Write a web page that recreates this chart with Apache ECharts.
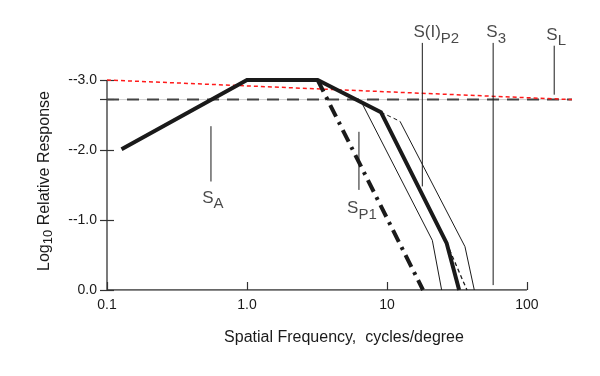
<!DOCTYPE html>
<html><head><meta charset="utf-8">
<script src="https://cdn.jsdelivr.net/npm/echarts@6/dist/echarts.min.js"></script>
<style>html,body{margin:0;padding:0;background:#fff}#c{width:600px;height:376px}</style>
</head><body><div id="c"></div>
<script>
// ---- data ----
const xTickValues = [0.1, 1, 10, 100];
const xTickLabels = ['0.1', '1.0', '10', '100'];
const yTickValues = [0, 1, 2, 3];
const yTickLabels = ['0.0', '--1.0', '--2.0', '--3.0'];
const criterionLevel = 2.72;

const thickFreq = [0.127, 1.0, 3.2, 9.06, 26.7, 32.8];
const thickResp = [2.01, 3.0, 3.0, 2.54, 0.67, 0.0];
const dashDotFreq = [3.2, 18.1];
const dashDotResp = [3.0, 0.0];
const thinLeftFreq = [6.59, 21.1, 24.6];
const thinLeftResp = [2.68, 0.71, 0.0];
const thinRightFreq = [12.4, 36.1, 42.1];
const thinRightResp = [2.41, 0.62, 0.0];
const dashUpperFreq = [9.06, 12.4];
const dashUpperResp = [2.54, 2.41];
const dashLowerFreq = [26.7, 37.3];
const dashLowerResp = [0.67, 0.0];
const redFreq = [0.1, 210];
const redResp = [3.0, 2.72];
const levelFreq = [0.1, 210];

const markerSubs = ['A', 'P1', 'P2', '3', 'L'];
const markerMains = ['S', 'S', 'S(I)', 'S', 'S'];
const markerFreq = [0.553, 6.31, 17.9, 57.4, 156.7];
const markerTop = [2.34, 2.26, 3.53, 3.53, 3.49];
const markerBottom = [1.55, 1.43, 1.48, 0.07, 2.79];

// ---- build ----
const zip = (a, b) => a.map((v, i) => [v, b[i]]);
const INK = '#1a1a1a';
const FONT = '"Liberation Sans", Arial, Helvetica, sans-serif';
const labelBelow = [true, true, false, false, false];
const labelShift = [2, 3, 14, 3, 2];
const labelDist = [8, 10, -4, -4, -4];

function lineSeries(data, width, type, color) {
  return {
    type: 'line', data: data, symbol: 'none', silent: true,
    lineStyle: { width: width, type: type || 'solid', color: color || INK, cap: 'butt', join: 'miter' },
    z: 3
  };
}

const series = [];
// axis lines (span of the tick ranges)
series.push(lineSeries([[xTickValues[0], yTickValues[0]], [xTickValues[xTickValues.length - 1], yTickValues[0]]], 1.3, 'solid', '#333'));
series.push(lineSeries([[xTickValues[0], yTickValues[0]], [xTickValues[0], yTickValues[yTickValues.length - 1]]], 1.3, 'solid', '#333'));
// criterion level: light grey base + dark dashes
series.push(lineSeries(levelFreq.map(f => [f, criterionLevel]), 1, 'solid', '#cfcfcf'));
series.push(lineSeries(levelFreq.map(f => [f, criterionLevel]), 2, [12, 8], '#444'));
// red dotted
series.push(lineSeries(zip(redFreq, redResp), 1.5, [4, 3], '#ff1a1a'));
// curves
series.push(lineSeries(zip(thickFreq, thickResp), 4));
series.push(lineSeries(zip(dashDotFreq, dashDotResp), 4, [13, 6, 3, 6]));
series.push(lineSeries(zip(thinLeftFreq, thinLeftResp), 1));
series.push(lineSeries(zip(thinRightFreq, thinRightResp), 1));
series.push(lineSeries(zip(dashUpperFreq, dashUpperResp), 1, [4, 3]));
series.push(lineSeries(zip(dashLowerFreq, dashLowerResp), 1.3, [4, 3]));
// markers
markerFreq.forEach((f, i) => {
  series.push(lineSeries([[f, markerBottom[i]], [f, markerTop[i]]], 1));
});
// marker labels
series.push({
  type: 'scatter', symbolSize: 0, silent: true, z: 5,
  data: markerFreq.map((f, i) => ({
    value: [f, labelBelow[i] ? markerBottom[i] : markerTop[i]],
    label: {
      show: true,
      position: labelBelow[i] ? 'bottom' : 'top',
      distance: labelDist[i],
      offset: [labelShift[i], 0],
      formatter: '{s|' + markerMains[i] + '}{b|' + markerSubs[i] + '}',
      rich: {
        s: { fontSize: 17, fontFamily: FONT, color: INK, padding: [0, 0, 6, 0] },
        b: { fontSize: 15, fontFamily: FONT, color: INK, padding: [6, 0, 0, 0] }
      }
    }
  }))
});

const yAxisCommon = {
  type: 'value', min: 0, max: 3.6, position: 'left',
  splitLine: { show: false }, axisLine: { show: false }
};

const option = {
  animation: false,
  backgroundColor: '#fff',
  grid: { left: 107, right: 28, top: 38, bottom: 86 },
  xAxis: {
    type: 'log', logBase: 10, min: 0.1, max: 210,
    axisLine: { show: false, onZero: false },
    splitLine: { show: false },
    axisTick: { show: true, inside: true, length: 8, customValues: xTickValues, lineStyle: { color: '#333', width: 1.2 } },
    axisLabel: {
      customValues: xTickValues, margin: 8, color: INK, fontSize: 14, fontFamily: FONT,
      formatter: v => {
        let best = 0;
        xTickValues.forEach((t, i) => { if (Math.abs(Math.log10(t) - Math.log10(v)) < Math.abs(Math.log10(xTickValues[best]) - Math.log10(v))) best = i; });
        return xTickLabels[best];
      }
    },
    name: 'Spatial Frequency,  cycles/degree',
    nameLocation: 'middle', nameGap: 40,
    nameTextStyle: { fontSize: 16, color: INK, fontFamily: FONT, padding: [0, 0, 0, 9] }
  },
  yAxis: [
    Object.assign({}, yAxisCommon, {
      axisTick: { show: true, inside: false, length: 7, customValues: yTickValues.concat([criterionLevel]), lineStyle: { color: '#333', width: 1.2 } },
      axisLabel: {
        customValues: yTickValues, margin: 10, color: INK, fontSize: 14, fontFamily: FONT,
        formatter: v => yTickLabels[yTickValues.indexOf(Math.round(v))]
      },
      name: 'Log{sub|10} Relative Response',
      nameLocation: 'middle', nameGap: 52, nameRotate: 90,
      nameTextStyle: {
        fontSize: 16, color: INK, fontFamily: FONT, padding: [0, 34, 0, 0],
        rich: { sub: { fontSize: 13, fontFamily: FONT, color: INK, padding: [8, 0, 0, 0] } }
      }
    }),
    Object.assign({}, yAxisCommon, {
      axisTick: { show: true, inside: true, length: 7, customValues: yTickValues.concat([criterionLevel]), lineStyle: { color: '#333', width: 1.2 } },
      axisLabel: { show: false }
    })
  ],
  series: series
};

const chart = echarts.init(document.getElementById('c'), null, { renderer: 'canvas' });
chart.setOption(option);
</script>
</body></html>
